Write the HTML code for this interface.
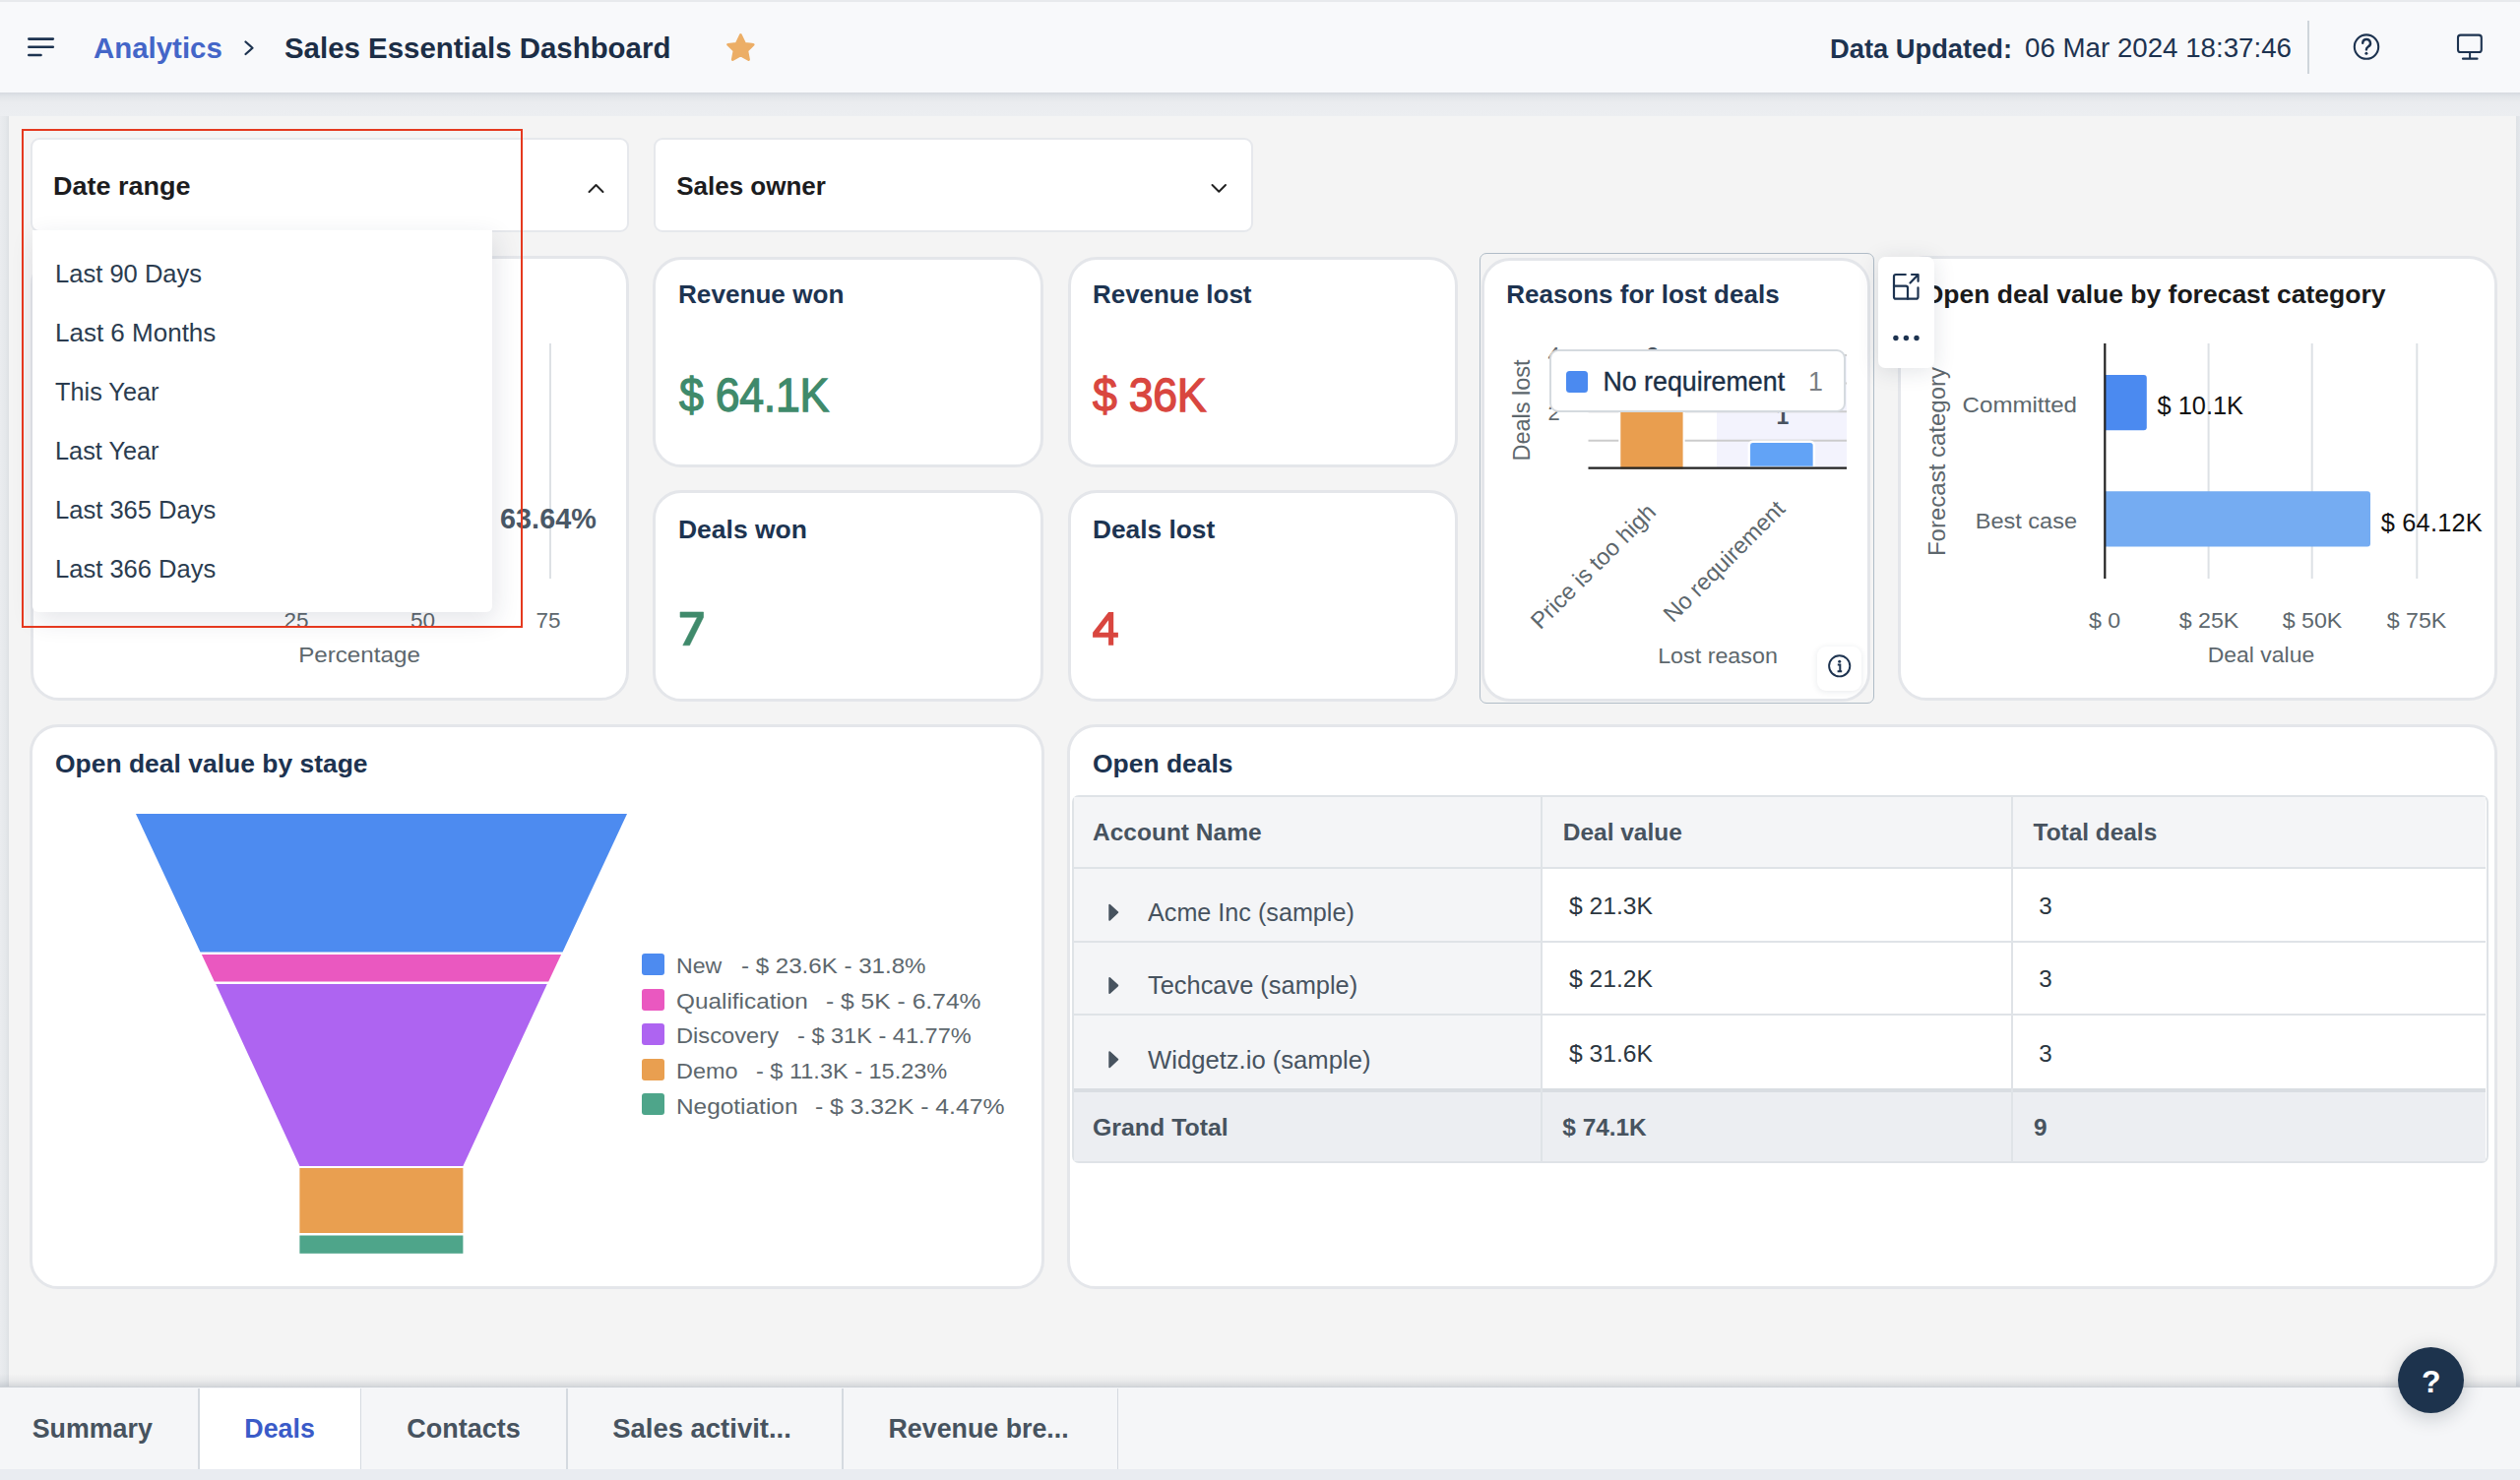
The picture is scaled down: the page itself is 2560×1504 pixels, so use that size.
<!DOCTYPE html><html><head><meta charset="utf-8"><style>
html,body{margin:0;padding:0;}
body{width:2560px;height:1504px;position:relative;overflow:hidden;background:#eceef1;font-family:"Liberation Sans",sans-serif;}
.a{position:absolute;}
.t{position:absolute;line-height:1;white-space:pre;}
svg{position:absolute;overflow:visible;}
</style></head><body>
<div class="a" style="left:0px;top:0px;width:2560px;height:2px;background:#e8eaed;"></div>
<div class="a" style="left:9px;top:118px;width:2547px;height:1291px;background:#f4f4f4;"></div>
<div class="a" style="left:2556px;top:94px;width:4px;height:1315px;background:linear-gradient(90deg,#dde1e5,#e4e7eb);"></div>
<div class="a" style="left:0px;top:94px;width:9px;height:1315px;background:linear-gradient(90deg,#eaecef 0,#e5e8eb 60%,#dde0e4 100%);"></div>
<div class="a" style="left:0px;top:94px;width:2560px;height:24px;background:linear-gradient(180deg,#d6dae0 0,#e2e5e9 4px,#eaecef 10px,#eceef1 100%);z-index:4;"></div>
<div class="a" style="left:0px;top:2px;width:2560px;height:92px;background:#f8f9fb;z-index:5;"></div>
<div style="position:absolute;left:0;top:0;width:2560px;height:94px;z-index:6;">
<svg style="left:0;top:0" width="2560" height="94"><g stroke="#1d3350" stroke-width="2.6" stroke-linecap="round"><line x1="29.3" y1="39.6" x2="53.8" y2="39.6"/><line x1="29.3" y1="47.8" x2="53.8" y2="47.8"/><line x1="29.3" y1="56" x2="41.5" y2="56"/></g><polyline points="249.5,42.5 256.5,48.8 249.5,55" fill="none" stroke="#1d3350" stroke-width="2.2" stroke-linecap="round" stroke-linejoin="round"/><path d="M752.4,35.5 L756.6,44.3 L765.2,45.3 L758.8,51.6 L760.5,60.5 L752.4,56 L744.3,60.5 L746,51.6 L739.6,45.3 L748.2,44.3 Z" fill="#ecae66" stroke="#ecae66" stroke-width="2.8" stroke-linejoin="round"/><line x1="2345" y1="21" x2="2345" y2="75" stroke="#cfd5db" stroke-width="2"/><circle cx="2404" cy="47.6" r="12.2" fill="none" stroke="#1d3350" stroke-width="2.1"/><path d="M2400.2,43.8 a3.9,3.9 0 1 1 5.6,3.6 c-1.3,0.8 -1.9,1.5 -1.9,3" fill="none" stroke="#1d3350" stroke-width="2.4" stroke-linecap="round"/><circle cx="2403.9" cy="54.2" r="1.5" fill="#1d3350"/><rect x="2497" y="35.6" width="23.8" height="17.4" rx="2.6" fill="none" stroke="#1d3350" stroke-width="2.1"/><line x1="2509.1" y1="53.9" x2="2509.1" y2="59.7" stroke="#1d3350" stroke-width="2"/><line x1="2502" y1="59.7" x2="2516.5" y2="59.7" stroke="#1d3350" stroke-width="2.2" stroke-linecap="round"/></svg>
<div class="t" style="left:95.3px;top:33.2px;font-size:30.4px;font-weight:700;color:#4466c8;transform-origin:0 0;transform:scaleX(0.968);">Analytics</div>
<div class="t" style="left:289.2px;top:33.9px;font-size:29.3px;font-weight:700;color:#1c2e46;transform-origin:0 0;transform:scaleX(1.004);">Sales Essentials Dashboard</div>
<div class="t" style="left:1858.7px;top:36.7px;font-size:26.8px;font-weight:700;color:#1d3350;transform-origin:0 0;transform:scaleX(1.019);">Data Updated:</div>
<div class="t" style="left:2057.3px;top:35.4px;font-size:27.4px;color:#1d3350;transform-origin:0 0;transform:scaleX(1.011);">06 Mar 2024 18:37:46</div>
</div>
<div class="a" style="left:31px;top:139.5px;width:608px;height:96.0px;background:#fff;border:2px solid #e6e8ec;border-radius:9px;box-sizing:border-box;"></div>
<div class="a" style="left:664px;top:139.5px;width:609px;height:96.0px;background:#fff;border:2px solid #e6e8ec;border-radius:9px;box-sizing:border-box;"></div>
<div class="t" style="left:53.7px;top:176.2px;font-size:26.3px;font-weight:700;color:#1c1c1e;transform-origin:0 0;transform:scaleX(1.026);">Date range</div>
<div class="t" style="left:687.2px;top:176.1px;font-size:26px;font-weight:700;color:#1c1c1e;">Sales owner</div>
<svg style="left:0;top:0" width="1400" height="260"><polyline points="598.5,195 605.5,188 612.5,195" fill="none" stroke="#222" stroke-width="2" stroke-linecap="round" stroke-linejoin="round"/><polyline points="1231.5,188 1238.3,194.8 1245,188" fill="none" stroke="#222" stroke-width="2" stroke-linecap="round" stroke-linejoin="round"/></svg>
<div class="a" style="left:31px;top:260px;width:608px;height:452px;background:#fff;border:3px solid #e4e6ea;border-radius:29px;box-sizing:border-box;"></div>
<div class="a" style="left:558px;top:349px;width:2px;height:239px;background:#dde1e5;"></div>
<div class="t" style="left:508.1px;top:513.4px;font-size:28.8px;font-weight:700;color:#4a5866;">63.64%</div>
<div class="t" style="left:557.0px;top:619.8px;font-size:22.5px;color:#5d676d;transform:translateX(-50%) ;">75</div>
<div class="t" style="left:301.0px;top:619.8px;font-size:22.5px;color:#5d676d;transform:translateX(-50%) ;">25</div>
<div class="t" style="left:429.5px;top:619.8px;font-size:22.5px;color:#5d676d;transform:translateX(-50%) ;">50</div>
<div class="t" style="left:365.3px;top:654.8px;font-size:22.5px;color:#5d676d;transform-origin:50% 0;transform:translateX(-50%) scaleX(1.075);">Percentage</div>
<div class="a" style="left:663px;top:261px;width:397px;height:214px;background:#fff;border:3px solid #e4e6ea;border-radius:29px;box-sizing:border-box;"></div>
<div class="a" style="left:1084.5px;top:261px;width:396.5px;height:214px;background:#fff;border:3px solid #e4e6ea;border-radius:29px;box-sizing:border-box;"></div>
<div class="a" style="left:663px;top:497.5px;width:397px;height:215.5px;background:#fff;border:3px solid #e4e6ea;border-radius:29px;box-sizing:border-box;"></div>
<div class="a" style="left:1084.5px;top:497.5px;width:396.5px;height:215.5px;background:#fff;border:3px solid #e4e6ea;border-radius:29px;box-sizing:border-box;"></div>
<div class="t" style="left:689.0px;top:287.0px;font-size:25.7px;font-weight:700;color:#1d3451;transform-origin:0 0;transform:scaleX(1.017);">Revenue won</div>
<div class="t" style="left:1110.1px;top:287.0px;font-size:25.7px;font-weight:700;color:#1d3451;transform-origin:0 0;transform:scaleX(1.01);">Revenue lost</div>
<div class="t" style="left:689.0px;top:526.0px;font-size:25.7px;font-weight:700;color:#1d3451;transform-origin:0 0;transform:scaleX(1.03);">Deals won</div>
<div class="t" style="left:1110.1px;top:526.0px;font-size:25.7px;font-weight:700;color:#1d3451;transform-origin:0 0;transform:scaleX(1.024);">Deals lost</div>
<div class="t" style="left:689.7px;top:378.2px;font-size:48px;color:#3f8a6b;letter-spacing:-0.3px;-webkit-text-stroke:1.3px #3f8a6b;transform-origin:0 0;transform:scaleX(0.93);">$ 64.1K</div>
<div class="t" style="left:1110.3px;top:378.2px;font-size:48px;color:#d9463f;letter-spacing:-0.3px;-webkit-text-stroke:1.3px #d9463f;transform-origin:0 0;transform:scaleX(0.93);">$ 36K</div>
<svg style="left:0;top:0" width="1200" height="700"><polygon points="691,622 714.6,622 714.6,627.2 700.5,655.8 693.8,655.8 708.4,627.2 691,627.2" fill="#3f8a6b" stroke="#3f8a6b" stroke-width="0.6" stroke-linejoin="round"/><path d="M1126.1,622 H1131.2 V642.8 H1135.9 V647.7 H1131.2 V655.8 H1126.1 V647.7 H1110.1 V642.8 Z M1126.1,630.3 L1116.6,642.8 H1126.1 Z" fill="#d9463f" fill-rule="evenodd"/></svg>
<div class="a" style="left:1502.8px;top:257.3px;width:401px;height:457.5px;border:1.7px solid #b0bcc7;border-radius:7px;box-sizing:border-box;"></div>
<div class="a" style="left:1505px;top:261.5px;width:395px;height:451.0px;background:#fff;border:3px solid #e4e6ea;border-radius:29px;box-sizing:border-box;"></div>
<div class="t" style="left:1530.2px;top:286.3px;font-size:26px;font-weight:700;color:#1d3350;">Reasons for lost deals</div>
<svg style="left:0;top:0" width="2000" height="720"><rect x="1744" y="362" width="132" height="113" fill="#f3f3fd"/><line x1="1613.5" y1="361" x2="1876" y2="361" stroke="#cccccc" stroke-width="2"/><line x1="1613.5" y1="389.5" x2="1876" y2="389.5" stroke="#cccccc" stroke-width="2"/><line x1="1613.5" y1="418.3" x2="1876" y2="418.3" stroke="#cccccc" stroke-width="2"/><line x1="1613.5" y1="447.8" x2="1876" y2="447.8" stroke="#cccccc" stroke-width="2"/><rect x="1645.3" y="387.5" width="65.3" height="90" fill="#e99e4f" stroke="#fff" stroke-width="2"/><path d="M1776.8,475 V452.7 a4,4 0 0 1 4,-4 H1838.9 a4,4 0 0 1 4,4 V475 Z" fill="#62a3f6" stroke="#fff" stroke-width="2.5"/><line x1="1613.5" y1="475.7" x2="1876" y2="475.7" stroke="#222" stroke-width="2.2"/></svg>
<div class="t" style="left:1679.0px;top:351.3px;font-size:23px;font-weight:700;color:#48535f;transform:translateX(-50%) ;">3</div>
<div class="t" style="left:1811.0px;top:411.8px;font-size:23px;font-weight:700;color:#48535f;transform:translateX(-50%) ;">1</div>
<div class="t" style="left:1578.5px;top:350.2px;font-size:22px;color:#5d676d;transform:translateX(-50%) ;">4</div>
<div class="t" style="left:1578.5px;top:408.7px;font-size:22px;color:#5d676d;transform:translateX(-50%) ;">2</div>
<div class="t" style="left:1547px;top:417px;font-size:23.5px;color:#5d676d;transform:translate(-50%,-50%) rotate(-90deg);">Deals lost</div>
<div class="t" style="left:1618.6px;top:575.6px;font-size:23.6px;color:#5d676d;transform:translate(-50%,-50%) rotate(-45deg);">Price is too high</div>
<div class="t" style="left:1751.9px;top:571.4px;font-size:23.6px;color:#5d676d;transform:translate(-50%,-50%) rotate(-45deg);">No requirement</div>
<div class="t" style="left:1744.7px;top:656.0px;font-size:22.5px;color:#5d676d;transform-origin:50% 0;transform:translateX(-50%) scaleX(1.035);">Lost reason</div>
<div class="a" style="left:1573.8px;top:355.3px;width:301px;height:64px;background:#fff;border:2px solid #d5dadf;border-radius:9px;box-sizing:border-box;"></div>
<div class="a" style="left:1591px;top:376.5px;width:22.299999999999955px;height:22.30000000000001px;background:#4b8af0;border-radius:3.5px;"></div>
<div class="t" style="left:1628.4px;top:374.9px;font-size:26.8px;color:#1b2f45;-webkit-text-stroke:0.35px #1b2f45;">No requirement</div>
<div class="t" style="left:1837.1px;top:374.9px;font-size:26.8px;color:#7a7f84;">1</div>
<div class="a" style="left:1846px;top:656.5px;width:45px;height:45.5px;background:#fff;border-radius:9px;box-shadow:0 1px 6px rgba(30,45,70,0.10);"></div>
<svg style="left:0;top:0" width="2000" height="720"><circle cx="1868.7" cy="676.8" r="10.6" fill="none" stroke="#1d3350" stroke-width="1.9"/><circle cx="1868.7" cy="672.2" r="1.5" fill="#1d3350"/><path d="M1866.8,675.4 H1869.3 V681.6 M1866.6,682.2 H1871.2" fill="none" stroke="#1d3350" stroke-width="2"/></svg>
<div class="a" style="left:1928px;top:260px;width:609px;height:452px;background:#fff;border:3px solid #e4e6ea;border-radius:29px;box-sizing:border-box;"></div>
<div class="t" style="left:1953.7px;top:286.0px;font-size:26.5px;font-weight:700;color:#1a1a1a;">Open deal value by forecast category</div>
<svg style="left:0;top:0" width="2560" height="720"><line x1="2243.6" y1="349" x2="2243.6" y2="588" stroke="#dde1e5" stroke-width="2"/><line x1="2348.7" y1="349" x2="2348.7" y2="588" stroke="#dde1e5" stroke-width="2"/><line x1="2455.3" y1="349" x2="2455.3" y2="588" stroke="#dde1e5" stroke-width="2"/><path d="M2138.3,381 H2177.8 a3,3 0 0 1 3,3 V434.3 a3,3 0 0 1 -3,3 H2138.3 Z" fill="#4b8af0"/><path d="M2138.3,499.3 H2405 a3,3 0 0 1 3,3 V552.6 a3,3 0 0 1 -3,3 H2138.3 Z" fill="#75acf2"/><line x1="2138.3" y1="349" x2="2138.3" y2="588" stroke="#222" stroke-width="2.2"/></svg>
<div class="t" style="left:2191.5px;top:400.1px;font-size:25.4px;color:#111;">$ 10.1K</div>
<div class="t" style="left:2418.7px;top:519.2px;font-size:25.4px;color:#111;letter-spacing:0.2px;">$ 64.12K</div>
<div class="t" style="left:2109.5px;top:401.3px;font-size:22.5px;color:#5d676d;transform-origin:100% 0;transform:translateX(-100%) scaleX(1.07);">Committed</div>
<div class="t" style="left:2109.5px;top:519.0px;font-size:22.5px;color:#5d676d;transform-origin:100% 0;transform:translateX(-100%) scaleX(1.045);">Best case</div>
<div class="t" style="left:2138.3px;top:619.7px;font-size:22.5px;color:#5d676d;transform-origin:50% 0;transform:translateX(-50%) scaleX(1.03);">$ 0</div>
<div class="t" style="left:2244.4px;top:619.7px;font-size:22.5px;color:#5d676d;transform-origin:50% 0;transform:translateX(-50%) scaleX(1.03);">$ 25K</div>
<div class="t" style="left:2348.7px;top:619.7px;font-size:22.5px;color:#5d676d;transform-origin:50% 0;transform:translateX(-50%) scaleX(1.03);">$ 50K</div>
<div class="t" style="left:2455.0px;top:619.7px;font-size:22.5px;color:#5d676d;transform-origin:50% 0;transform:translateX(-50%) scaleX(1.03);">$ 75K</div>
<div class="t" style="left:2297.0px;top:655.1px;font-size:22.5px;color:#5d676d;transform-origin:50% 0;transform:translateX(-50%) scaleX(1.02);">Deal value</div>
<div class="t" style="left:1967.5px;top:469px;font-size:24px;color:#5d676d;transform:translate(-50%,-50%) rotate(-90deg);">Forecast category</div>
<div class="a" style="left:1908px;top:261px;width:57px;height:113px;background:#fff;border-radius:7px;box-shadow:0 3px 22px rgba(30,45,70,0.13);"></div>
<svg style="left:0;top:0" width="2000" height="400"><g fill="none" stroke="#1d3350" stroke-width="2.2" stroke-linecap="round" stroke-linejoin="round"><path d="M1935.8,279 H1926 a2,2 0 0 0 -2,2 V301.7 a2,2 0 0 0 2,2 H1946.5 a2,2 0 0 0 2,-2 V292.3"/><path d="M1924,290.6 H1936 a2,2 0 0 1 2,2 V303.7"/><path d="M1940.5,287.5 L1948.4,279.2 M1942,279 H1948.6 V285.8"/></g><g fill="#1d3350"><circle cx="1925.9" cy="343.5" r="2.7"/><circle cx="1936.4" cy="343.5" r="2.7"/><circle cx="1947" cy="343.5" r="2.7"/></g></svg>
<div class="a" style="left:30px;top:736px;width:1031px;height:574px;background:#fff;border:3px solid #e4e6ea;border-radius:29px;box-sizing:border-box;"></div>
<div class="t" style="left:55.9px;top:763.2px;font-size:26.3px;font-weight:700;color:#1d3350;transform-origin:0 0;transform:scaleX(1.006);">Open deal value by stage</div>
<svg style="left:0;top:0" width="1100" height="1320"><polygon points="138,827 637,827 571.5,967.5 203.5,967.5" fill="#4d8bf0"/><polygon points="204.9,970 570.1,970 557.2,997.5 217.8,997.5" fill="#ea58c0"/><polygon points="219.2,1000 555.8,1000 470.4,1185 304.4,1185" fill="#ae64f1"/><rect x="304.4" y="1187" width="166" height="66" fill="#e99f50"/><rect x="304.4" y="1255.5" width="166" height="18.3" fill="#4ea58a"/></svg>
<div class="a" style="left:652px;top:969.0px;width:22.600000000000023px;height:22.0px;background:#4d8bf0;border-radius:3px;"></div>
<div class="t" style="left:687.2px;top:971.1px;font-size:22.5px;color:#5d676d;transform-origin:0 0;transform:scaleX(1.027728);">New</div>
<div class="t" style="left:752.9px;top:971.1px;font-size:22.5px;color:#5d676d;transform-origin:0 0;transform:scaleX(1.0709009999999999);">- $ 23.6K - 31.8%</div>
<div class="a" style="left:652px;top:1004.6px;width:22.600000000000023px;height:21.999999999999886px;background:#ea58c0;border-radius:3px;"></div>
<div class="t" style="left:687.2px;top:1006.7px;font-size:22.5px;color:#5d676d;transform-origin:0 0;transform:scaleX(1.0814309999999998);">Qualification</div>
<div class="t" style="left:838.7px;top:1006.7px;font-size:22.5px;color:#5d676d;transform-origin:0 0;transform:scaleX(1.0951199999999999);">- $ 5K - 6.74%</div>
<div class="a" style="left:652px;top:1040.2px;width:22.600000000000023px;height:22.0px;background:#ae64f1;border-radius:3px;"></div>
<div class="t" style="left:687.2px;top:1042.3px;font-size:22.5px;color:#5d676d;transform-origin:0 0;transform:scaleX(1.053);">Discovery</div>
<div class="t" style="left:809.5px;top:1042.3px;font-size:22.5px;color:#5d676d;transform-origin:0 0;transform:scaleX(1.046682);">- $ 31K - 41.77%</div>
<div class="a" style="left:652px;top:1075.8px;width:22.600000000000023px;height:22.0px;background:#e99f50;border-radius:3px;"></div>
<div class="t" style="left:687.2px;top:1077.9px;font-size:22.5px;color:#5d676d;transform-origin:0 0;transform:scaleX(1.04247);">Demo</div>
<div class="t" style="left:767.5px;top:1077.9px;font-size:22.5px;color:#5d676d;transform-origin:0 0;transform:scaleX(1.044576);">- $ 11.3K - 15.23%</div>
<div class="a" style="left:652px;top:1111.4px;width:22.600000000000023px;height:22.0px;background:#4ea58a;border-radius:3px;"></div>
<div class="t" style="left:687.2px;top:1113.5px;font-size:22.5px;color:#5d676d;transform-origin:0 0;transform:scaleX(1.08459);">Negotiation</div>
<div class="t" style="left:827.7px;top:1113.5px;font-size:22.5px;color:#5d676d;transform-origin:0 0;transform:scaleX(1.099332);">- $ 3.32K - 4.47%</div>
<div class="a" style="left:1084px;top:736px;width:1453px;height:574px;background:#fff;border:3px solid #e4e6ea;border-radius:29px;box-sizing:border-box;"></div>
<div class="t" style="left:1110.0px;top:762.9px;font-size:26.1px;font-weight:700;color:#1d3350;transform-origin:0 0;transform:scaleX(1.013);">Open deals</div>
<div class="a" style="left:1088.5px;top:808px;width:1439px;height:374px;border:2px solid #dfe3e7;border-radius:7px;box-sizing:border-box;overflow:hidden;background:#fff;">
</div>
<div class="a" style="left:1090.5px;top:810px;width:1434.5px;height:71px;background:#f4f5f7;"></div>
<div class="a" style="left:1090.5px;top:883px;width:475.0px;height:223px;background:#f4f5f7;"></div>
<div class="a" style="left:1090.5px;top:1109px;width:1434.5px;height:71px;background:#eceef2;"></div>
<div class="a" style="left:1090.5px;top:881px;width:1434.5px;height:2px;background:#dfe3e7;"></div>
<div class="a" style="left:1090.5px;top:956px;width:1434.5px;height:2px;background:#dfe3e7;"></div>
<div class="a" style="left:1090.5px;top:1030px;width:1434.5px;height:2px;background:#dfe3e7;"></div>
<div class="a" style="left:1090.5px;top:1105.5px;width:1434.5px;height:4.0px;background:#d9dde2;"></div>
<div class="a" style="left:1565px;top:810px;width:2px;height:370px;background:#dfe3e7;"></div>
<div class="a" style="left:2042.5px;top:810px;width:2.0px;height:370px;background:#dfe3e7;"></div>
<div class="t" style="left:1110.0px;top:833.8px;font-size:24.5px;font-weight:700;color:#47535f;">Account Name</div>
<div class="t" style="left:1587.7px;top:833.8px;font-size:24.5px;font-weight:700;color:#47535f;">Deal value</div>
<div class="t" style="left:2065.6px;top:833.9px;font-size:24.4px;font-weight:700;color:#47535f;">Total deals</div>
<div class="t" style="left:1165.5px;top:915.1px;font-size:25px;color:#47535f;transform-origin:0 0;transform:scaleX(1.007);">Acme Inc (sample)</div>
<div class="t" style="left:1594.2px;top:908.8px;font-size:24.2px;color:#2b3640;transform-origin:0 0;transform:scaleX(1.02);">$ 21.3K</div>
<div class="t" style="left:2071.2px;top:908.8px;font-size:24.2px;color:#2b3640;">3</div>
<div class="t" style="left:1165.5px;top:989.4px;font-size:25px;color:#47535f;transform-origin:0 0;transform:scaleX(1.016);">Techcave (sample)</div>
<div class="t" style="left:1594.2px;top:983.2px;font-size:24.2px;color:#2b3640;transform-origin:0 0;transform:scaleX(1.02);">$ 21.2K</div>
<div class="t" style="left:2071.2px;top:983.2px;font-size:24.2px;color:#2b3640;">3</div>
<div class="t" style="left:1165.5px;top:1064.6px;font-size:25px;color:#47535f;transform-origin:0 0;transform:scaleX(1.025);">Widgetz.io (sample)</div>
<div class="t" style="left:1594.2px;top:1058.6px;font-size:24.2px;color:#2b3640;transform-origin:0 0;transform:scaleX(1.02);">$ 31.6K</div>
<div class="t" style="left:2071.2px;top:1058.6px;font-size:24.2px;color:#2b3640;">3</div>
<svg style="left:0;top:0" width="1200" height="1200"><polygon points="1127.2,919.6 1135.4,927.2 1127.2,934.8000000000001" fill="#47535f" stroke="#47535f" stroke-width="1.8" stroke-linejoin="round"/><polygon points="1127.2,993.9 1135.4,1001.5 1127.2,1009.1" fill="#47535f" stroke="#47535f" stroke-width="1.8" stroke-linejoin="round"/><polygon points="1127.2,1069.1000000000001 1135.4,1076.7 1127.2,1084.3" fill="#47535f" stroke="#47535f" stroke-width="1.8" stroke-linejoin="round"/></svg>
<div class="t" style="left:1109.7px;top:1133.7px;font-size:24.4px;font-weight:700;color:#47535f;transform-origin:0 0;transform:scaleX(1.02);">Grand Total</div>
<div class="t" style="left:1587.3px;top:1133.7px;font-size:24.4px;font-weight:700;color:#47535f;">$ 74.1K</div>
<div class="t" style="left:2066.1px;top:1134.1px;font-size:24.4px;font-weight:700;color:#47535f;">9</div>
<div class="a" style="left:0px;top:1396px;width:2560px;height:13.5px;background:linear-gradient(180deg,rgba(40,55,75,0) 0,rgba(40,55,75,0.05) 50%,rgba(40,55,75,0.17) 100%);z-index:3;"></div>
<div class="a" style="left:0px;top:1409.5px;width:2560px;height:83.5px;background:#f5f6f8;"></div>
<div class="a" style="left:0px;top:1493px;width:2560px;height:11px;background:#e9ecf1;"></div>
<div class="a" style="left:201.7px;top:1410.5px;width:164.5px;height:82.5px;background:#ffffff;"></div>
<div class="a" style="left:201.2px;top:1410.5px;width:1.5px;height:82.5px;background:#d5dae0;"></div>
<div class="a" style="left:365.7px;top:1410.5px;width:1.5px;height:82.5px;background:#d5dae0;"></div>
<div class="a" style="left:575.2px;top:1410.5px;width:1.5px;height:82.5px;background:#d5dae0;"></div>
<div class="a" style="left:855px;top:1410.5px;width:1.5px;height:82.5px;background:#d5dae0;"></div>
<div class="a" style="left:1134.5px;top:1410.5px;width:1.5px;height:82.5px;background:#d5dae0;"></div>
<div class="t" style="left:93.8px;top:1438.7px;font-size:26.8px;font-weight:700;color:#47535f;transform:translateX(-50%) ;">Summary</div>
<div class="t" style="left:284.1px;top:1438.7px;font-size:26.8px;font-weight:700;color:#3a5bc8;transform:translateX(-50%) ;">Deals</div>
<div class="t" style="left:471.1px;top:1438.5px;font-size:27px;font-weight:700;color:#47535f;transform:translateX(-50%) ;">Contacts</div>
<div class="t" style="left:712.6px;top:1438.7px;font-size:26.8px;font-weight:700;color:#47535f;transform-origin:50% 0;transform:translateX(-50%) scaleX(1.025);">Sales activit...</div>
<div class="t" style="left:994.1px;top:1438.7px;font-size:26.8px;font-weight:700;color:#47535f;transform:translateX(-50%) ;">Revenue bre...</div>
<div class="a" style="left:2436.2px;top:1369px;width:67.2px;height:67.2px;border-radius:50%;background:#1d334d;box-shadow:0 4px 20px rgba(20,30,45,0.22);z-index:8;"></div>
<div class="t" style="left:2469.8px;top:1387.7px;font-size:32px;font-weight:700;color:#ffffff;transform:translateX(-50%) ;z-index:9;">?</div>
<div class="a" style="left:33px;top:234px;width:467px;height:388px;background:#fff;box-shadow:3px 8px 26px rgba(30,45,70,0.12);border-radius:0 0 6px 6px;z-index:10;"></div>
<div class="t" style="left:55.7px;top:266.4px;font-size:25px;color:#2b3c4f;transform-origin:0 0;transform:scaleX(1.022);z-index:11;">Last 90 Days</div>
<div class="t" style="left:55.7px;top:326.4px;font-size:25px;color:#2b3c4f;transform-origin:0 0;transform:scaleX(1.04);z-index:11;">Last 6 Months</div>
<div class="t" style="left:55.7px;top:386.4px;font-size:25px;color:#2b3c4f;transform-origin:0 0;transform:scaleX(1.012);z-index:11;">This Year</div>
<div class="t" style="left:55.7px;top:446.4px;font-size:25px;color:#2b3c4f;transform-origin:0 0;transform:scaleX(1.012);z-index:11;">Last Year</div>
<div class="t" style="left:55.7px;top:506.4px;font-size:25px;color:#2b3c4f;transform-origin:0 0;transform:scaleX(1.022);z-index:11;">Last 365 Days</div>
<div class="t" style="left:55.7px;top:566.4px;font-size:25px;color:#2b3c4f;transform-origin:0 0;transform:scaleX(1.022);z-index:11;">Last 366 Days</div>
<div class="a" style="left:21.6px;top:131px;width:509.4px;height:507px;border:2.8px solid #e5391f;box-sizing:border-box;z-index:20;"></div>
</body></html>
